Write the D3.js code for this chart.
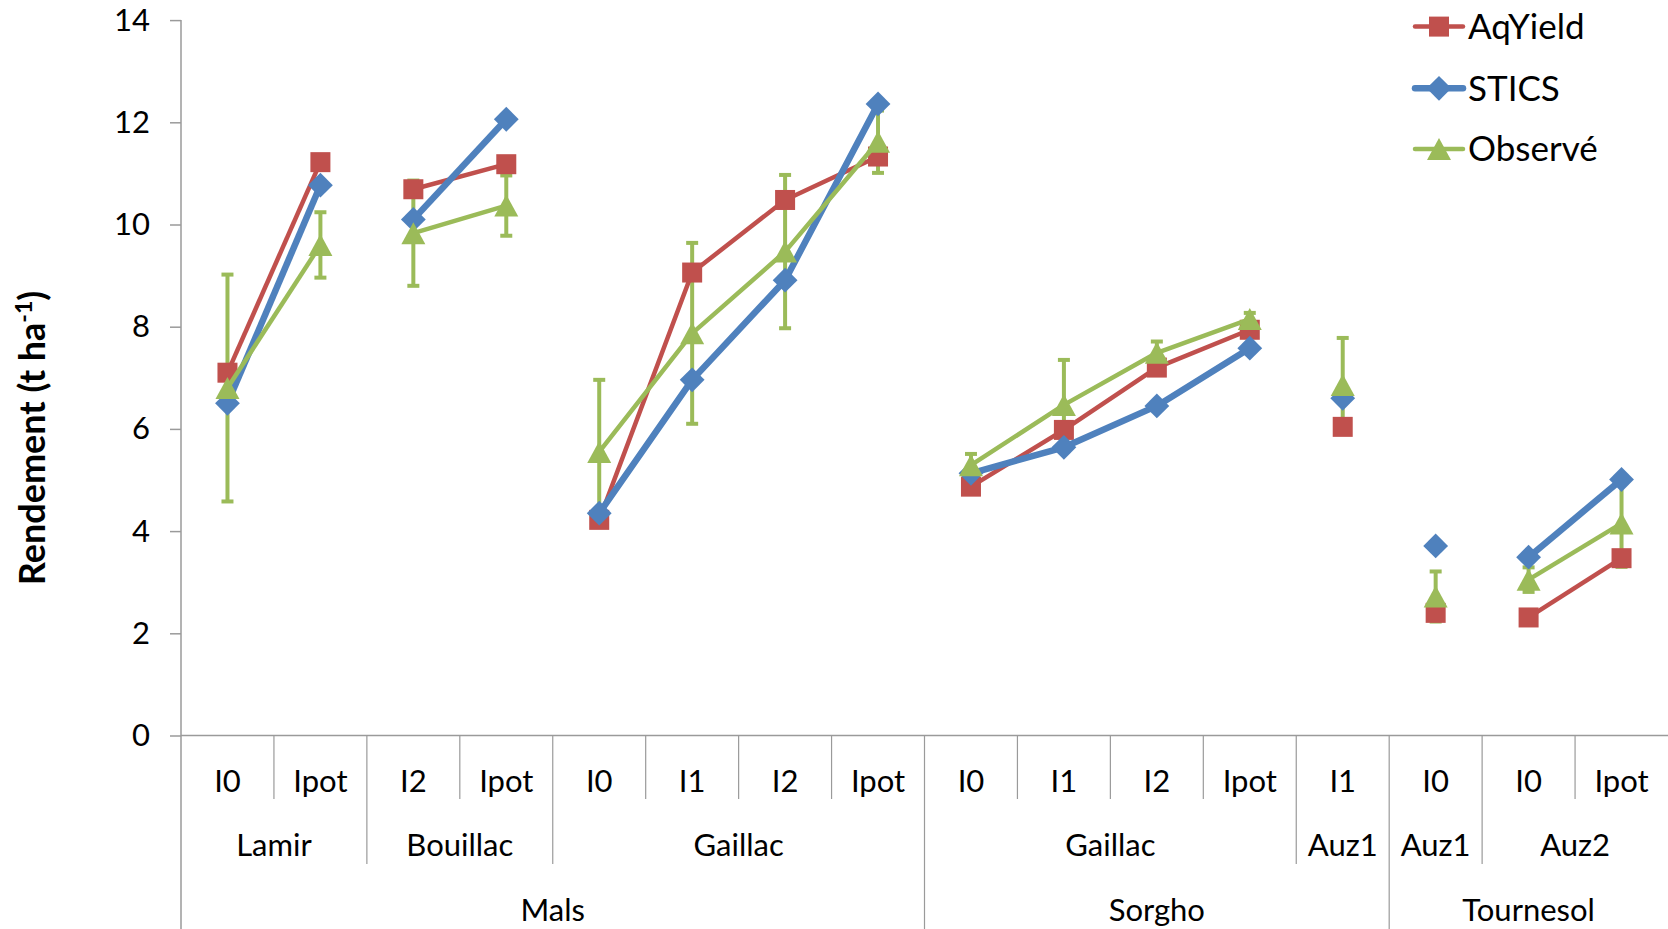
<!DOCTYPE html>
<html>
<head>
<meta charset="utf-8">
<script src="https://cdn.jsdelivr.net/npm/d3@7"></script>
<style>
  html, body { margin: 0; padding: 0; background: #fff; }
  svg { display: block; }
  text { font-family: Lato, "Open Sans", sans-serif; fill: #000; }
</style>
</head>
<body>
<svg id="chart" width="1668" height="929"></svg>
<script>
// ---------- data ----------
const treatments = ["I0","Ipot","I2","Ipot","I0","I1","I2","Ipot","I0","I1","I2","Ipot","I1","I0","I0","Ipot"];
const sites      = ["Lamir","Lamir","Bouillac","Bouillac","Gaillac","Gaillac","Gaillac","Gaillac",
                    "Gaillac","Gaillac","Gaillac","Gaillac","Auz1","Auz1","Auz2","Auz2"];
const crops      = ["Mals","Mals","Mals","Mals","Mals","Mals","Mals","Mals",
                    "Sorgho","Sorgho","Sorgho","Sorgho","Sorgho","Tournesol","Tournesol","Tournesol"];
const seriesNames = ["AqYield","STICS","Observé"];
const aqyield  = [7.10, 11.22, 10.69, 11.18, 4.22, 9.06, 10.48, 11.33, 4.87, 5.98, 7.20, 7.94, 6.04, 2.40, 2.31, 3.47];
const stics    = [6.50, 10.77, 10.10, 12.06, 4.35, 6.96, 8.91, 12.36, 5.13, 5.64, 6.45, 7.58, 6.60, 3.71, 3.49, 5.01];
const observe  = [6.80, 9.60, 9.83, 10.37, 5.55, 7.87, 9.47, 11.62, 5.29, 6.47, 7.49, 8.15, 6.86, 2.72, 3.05, 4.15];
const observeErr = [2.22, 0.64, 1.03, 0.59, 1.41, 1.77, 1.50, 0.61, 0.22, 0.88, 0.22, 0.12, 0.92, 0.49, 0.24, 0.85];
const yTicks = [0, 2, 4, 6, 8, 10, 12, 14];
const yTitle = "Rendement (t ha";
const yTitleSup = "-1";

// ---------- layout ----------
const svg = d3.select("#chart");
const plotLeft = 181, plotRight = 1668, plotTop = 20.1, plotBottom = 735.5;
const idx = d3.range(treatments.length);
const x = d3.scaleBand().domain(idx).range([plotLeft, plotRight]).padding(0);
const y = d3.scaleLinear().domain([0, 14]).range([plotBottom, plotTop]);
const axisColor = "#9a9a9a";
const colors = { "AqYield": "#C0504D", "STICS": "#4F81BD", "Observé": "#9BBB59" };
const widths = { "AqYield": 4.5, "STICS": 6.5, "Observé": 4.5 };

// ---------- y axis ----------
const yAxis = svg.append("g").attr("transform", `translate(${plotLeft},0)`)
  .call(d3.axisLeft(y).tickValues(yTicks).tickSize(11).tickPadding(20).tickFormat(d3.format("d")));
yAxis.select(".domain").remove();
yAxis.selectAll(".tick line").attr("stroke", axisColor).attr("stroke-width", 1.5);
yAxis.selectAll(".tick text").style("font-size", "31px").style("font-family", "Lato, sans-serif").attr("fill", "#000");
svg.append("line").attr("x1", plotLeft).attr("x2", plotLeft).attr("y1", plotTop).attr("y2", 929)
  .attr("stroke", axisColor).attr("stroke-width", 1.5);

// y title
const yt = svg.append("text")
  .attr("transform", `translate(45,438) rotate(-90)`)
  .attr("text-anchor", "middle")
  .style("font-size", "36px").style("font-weight", "bold");
yt.append("tspan").text(yTitle);
yt.append("tspan").text(yTitleSup).attr("dy", -13).style("font-size", "23px");
yt.append("tspan").text(")").attr("dy", 13);

// ---------- x axis (multi-level) ----------
svg.append("line").attr("x1", plotLeft).attr("x2", plotRight).attr("y1", plotBottom).attr("y2", plotBottom)
  .attr("stroke", axisColor).attr("stroke-width", 1.5);

const lvl1Y = 799, lvl2Y = 864, lvl3Y = 929;
for (let i = 1; i < idx.length; i++) {
  const bx = x(i);
  let endY = lvl1Y;
  if (sites[i] !== sites[i - 1] || crops[i] !== crops[i - 1]) endY = lvl2Y;
  if (crops[i] !== crops[i - 1]) endY = lvl3Y;
  svg.append("line").attr("x1", bx).attr("x2", bx).attr("y1", plotBottom).attr("y2", endY)
    .attr("stroke", axisColor).attr("stroke-width", 1.2);
}
svg.append("g").selectAll("text").data(idx).join("text")
  .attr("x", i => x(i) + x.bandwidth() / 2).attr("y", 781).attr("dy", "0.35em")
  .attr("text-anchor", "middle").style("font-size", "31px").text(i => treatments[i]);

function groupsBy(keyFn) {
  const out = [];
  idx.forEach(i => {
    const k = keyFn(i);
    if (out.length && out[out.length - 1].key === k) out[out.length - 1].items.push(i);
    else out.push({ key: k, items: [i] });
  });
  return out;
}
const siteGroups = groupsBy(i => crops[i] + "|" + sites[i]);
const cropGroups = groupsBy(i => crops[i]);
const center = g => (x(g.items[0]) + x(g.items[g.items.length - 1]) + x.bandwidth()) / 2;
svg.append("g").selectAll("text").data(siteGroups).join("text")
  .attr("x", center).attr("y", 845).attr("dy", "0.35em").attr("text-anchor", "middle")
  .style("font-size", "31px").text(g => g.key.split("|")[1]);
svg.append("g").selectAll("text").data(cropGroups).join("text")
  .attr("x", center).attr("y", 910).attr("dy", "0.35em").attr("text-anchor", "middle")
  .style("font-size", "31px").text(g => g.key);

// ---------- series ----------
const seriesData = { "AqYield": aqyield, "STICS": stics, "Observé": observe };
const cx = i => x(i) + x.bandwidth() / 2;

const eb = svg.append("g").attr("stroke", colors["Observé"]).attr("stroke-width", 4);
idx.forEach(i => {
  const v = observe[i], e = observeErr[i];
  eb.append("line").attr("x1", cx(i)).attr("x2", cx(i)).attr("y1", y(v + e)).attr("y2", y(v - e));
  [v + e, v - e].forEach(t => eb.append("line").attr("x1", cx(i) - 6).attr("x2", cx(i) + 6)
    .attr("y1", y(t)).attr("y2", y(t)));
});

const line = d3.line().x(i => cx(i));
function marker(g, name, px, py, s) {
  const c = colors[name];
  if (name === "AqYield") {
    g.append("rect").attr("x", px - s / 2).attr("y", py - s / 2).attr("width", s).attr("height", s).attr("fill", c);
  } else if (name === "STICS") {
    const h = s * 0.62;
    g.append("path").attr("d", `M${px},${py - h}L${px + h},${py}L${px},${py + h}L${px - h},${py}Z`).attr("fill", c);
  } else {
    const w = s * 0.6, hh = s * 0.55;
    g.append("path").attr("d", `M${px},${py - hh}L${px + w},${py + hh}L${px - w},${py + hh}Z`).attr("fill", c);
  }
}
seriesNames.forEach(name => {
  const vals = seriesData[name];
  const g = svg.append("g");
  siteGroups.forEach(grp => {
    if (grp.items.length > 1) {
      g.append("path").attr("d", line.y(i => y(vals[i]))(grp.items))
        .attr("fill", "none").attr("stroke", colors[name]).attr("stroke-width", widths[name])
        .attr("stroke-linejoin", "round");
    }
  });
  idx.forEach(i => marker(g, name, cx(i), y(vals[i]), 20));
});

// ---------- legend ----------
const legendY = [26.6, 88.3, 149];
seriesNames.forEach((name, k) => {
  const g = svg.append("g");
  g.append("line").attr("x1", 1415).attr("x2", 1463).attr("y1", legendY[k]).attr("y2", legendY[k])
    .attr("stroke", colors[name]).attr("stroke-width", widths[name]).attr("stroke-linecap", "round");
  marker(g, name, 1439, legendY[k], 20);
  g.append("text").attr("x", 1468).attr("y", legendY[k]).attr("dy", "0.35em")
    .style("font-size", "35px").text(name);
});
</script>
</body>
</html>
